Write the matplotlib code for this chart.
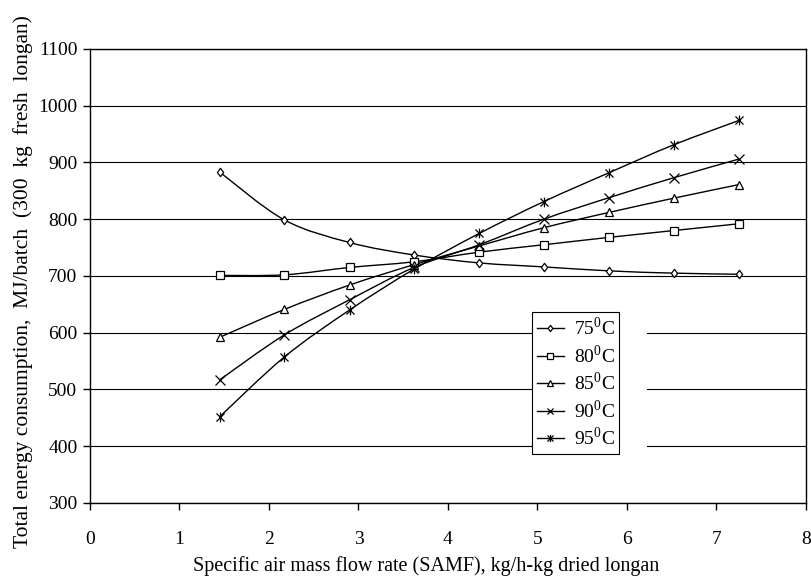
import matplotlib
matplotlib.use('Agg')
import matplotlib.pyplot as plt
import numpy as np
from matplotlib.path import Path
from matplotlib.patches import PathPatch, Rectangle

plt.rcParams['font.family'] = 'Liberation Serif'
plt.rcParams['mathtext.fontset'] = 'custom'
plt.rcParams['mathtext.rm'] = 'Liberation Serif'

# specific air mass flow rate (kg/h-kg dried longan)
samf = [1.45, 2.17, 2.90, 3.62, 4.35, 5.07, 5.80, 6.52, 7.25]

# total energy consumption, MJ/batch
e75 = [883, 799, 759, 737, 723, 716, 709, 705, 703]
e80 = [701, 702, 715, 725, 742, 755, 768, 780, 792]
e85 = [592, 641, 684, 720, 753, 785, 812, 837, 861]
e90 = [517, 596, 658, 715, 755, 800, 838, 873, 906]
e95 = [452, 557, 640, 712, 775, 831, 882, 931, 974]

# excel-like star: an x with a vertical bar through it
star = Path([(-1, -1), (1, 1), (-1, 1), (1, -1), (0, -1.2), (0, 1.2)],
            [Path.MOVETO, Path.LINETO] * 3)
# slightly tall diamond
diamond = Path([(0, -1.2), (0.9, 0), (0, 1.2), (-0.9, 0), (0, -1.2)],
               [Path.MOVETO] + [Path.LINETO] * 3 + [Path.CLOSEPOLY])

series = [('75', e75, diamond, 6),
          ('80', e80, 's', 5.5),
          ('85', e85, '^', 6),
          ('90', e90, 'x', 6.5),
          ('95', e95, star, 7)]


def smooth_path(x, y):
    ''' excel style smoothed line as cubic bezier segments '''
    pts = np.column_stack([x, y]).astype(float)
    pad = np.vstack([pts[0], pts, pts[-1]])
    verts = [pts[0]]
    codes = [Path.MOVETO]
    for i in range(len(pts) - 1):
        p0, p1, p2, p3 = pad[i], pad[i + 1], pad[i + 2], pad[i + 3]
        c1 = p1 + (p2 - p0) / 6
        c2 = p2 - (p3 - p1) / 6
        verts += [c1, c2, p2]
        codes += [Path.CURVE4] * 3
    return Path(verts, codes)


fig = plt.figure(figsize=(8.12, 5.81), dpi=100)
ax = fig.add_axes([0.1108, 0.1343, 0.8818, 0.7814])

for name, vals, mk, ms in series:
    ax.add_patch(PathPatch(smooth_path(samf, vals), facecolor='none',
                           edgecolor='black', lw=1.0, zorder=3))
    ax.plot(samf, vals, linestyle='none', marker=mk, ms=ms, mfc='white',
            mec='black', mew=0.9, zorder=4)
    ax.plot([], [], color='black', lw=1.0, marker=mk, ms=ms * 0.75,
            mfc='white', mec='black', mew=0.9,
            label='%s$^{\\mathrm{0}}$C' % name)

# white area behind the legend (cuts the gridlines)
ax.add_patch(Rectangle((4.935, 388), 1.285, 249, facecolor='white',
                       edgecolor='none', zorder=1))

ax.set_xlim(0, 8)
ax.set_ylim(300, 1100)
ax.set_xticks(range(0, 9))
ax.set_yticks(range(300, 1101, 100))
ax.yaxis.grid(True, color='black', lw=0.8)
ax.set_axisbelow(True)
for s in ax.spines.values():
    s.set_linewidth(1.0)
ax.tick_params(direction='out', length=5, width=1.0, labelsize=14)
ax.tick_params(axis='x', pad=15)
ax.tick_params(axis='y', pad=4)

ax.set_xlabel('Specific air mass flow rate (SAMF), kg/h-kg dried longan',
              fontsize=14.5, labelpad=6, x=0.47)
ax.set_ylabel('Total energy consumption,  MJ/batch  (300  kg  fresh  longan)',
              fontsize=15.5, labelpad=4, y=0.487)

leg = ax.legend(loc='upper left', bbox_to_anchor=(0.617, 0.421), fontsize=14,
                frameon=True, fancybox=False, edgecolor='black',
                framealpha=1, handlelength=1.4, handletextpad=0.5,
                borderpad=0.25, labelspacing=0.25, borderaxespad=0)
leg.get_frame().set_linewidth(0.8)
leg.set_zorder(5)

fig.savefig('out.png', dpi=100)
